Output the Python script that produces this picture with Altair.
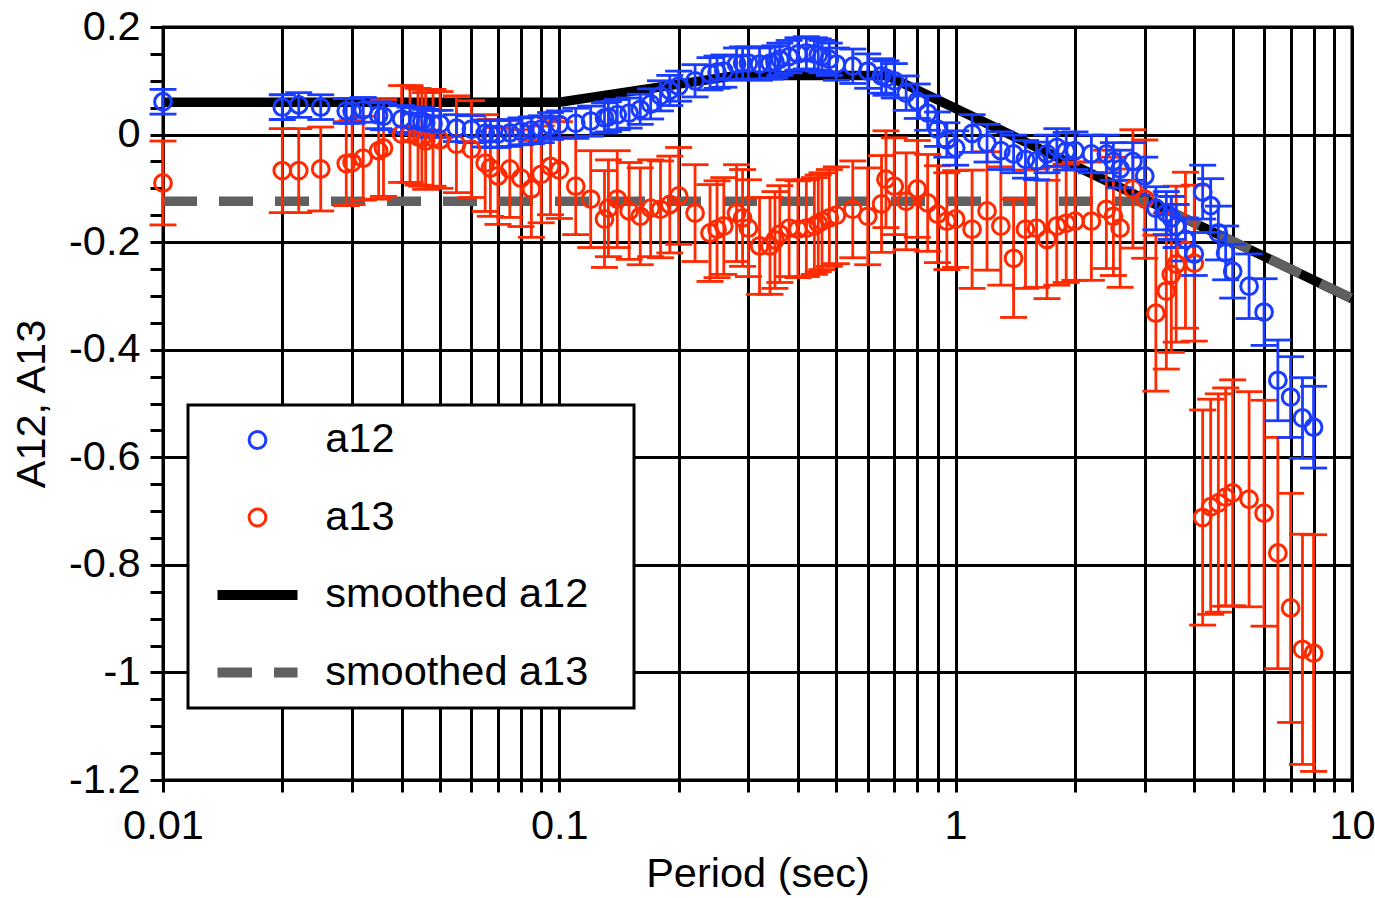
import altair as alt
import pandas as pd

FONT = "Liberation Sans"
PAD_CHAR = "\u2800"

periods = [0.01, 0.02, 0.022, 0.025, 0.029, 0.03, 0.032, 0.035, 0.036, 0.04, 0.042, 0.044, 0.045, 0.046, 0.048, 0.05,
           0.055, 0.06, 0.065, 0.067, 0.07, 0.075, 0.08, 0.085, 0.09, 0.095, 0.1, 0.11, 0.12, 0.13, 0.133, 0.14, 0.15,
           0.16, 0.17, 0.18, 0.19, 0.2, 0.22, 0.24, 0.25, 0.26, 0.28, 0.29, 0.3, 0.32, 0.34, 0.35, 0.36, 0.38, 0.4,
           0.42, 0.44, 0.45, 0.46, 0.48, 0.5, 0.55, 0.6, 0.65, 0.667, 0.7, 0.75, 0.8, 0.85, 0.9, 0.95, 1.0, 1.1, 1.2,
           1.3, 1.4, 1.5, 1.6, 1.7, 1.8, 1.9, 2.0, 2.2, 2.4, 2.5, 2.6, 2.8, 3.0, 3.2, 3.4, 3.5, 3.6, 3.8, 4.0, 4.2,
           4.4, 4.6, 4.8, 5.0, 5.5, 6.0, 6.5, 7.0, 7.5, 8.0]

a12 = [0.061, 0.051, 0.055, 0.051, 0.044, 0.044, 0.046, 0.036, 0.034, 0.029, 0.026, 0.025, 0.025, 0.022, 0.020, 0.020,
       0.012, 0.010, 0.002, 0.001, 0.001, 0.003, 0.006, 0.008, 0.010, 0.016, 0.019, 0.021, 0.025, 0.031, 0.033, 0.037,
       0.040, 0.047, 0.057, 0.072, 0.082, 0.090, 0.100, 0.113, 0.116, 0.118, 0.131, 0.133, 0.133, 0.131, 0.133, 0.135,
       0.140, 0.145, 0.150, 0.152, 0.150, 0.148, 0.145, 0.140, 0.131, 0.127, 0.118, 0.109, 0.105, 0.100, 0.077, 0.062,
       0.040, 0.010, -0.010, -0.025, 0.002, -0.016, -0.030, -0.036, -0.046, -0.049, -0.036, -0.024, -0.031, -0.030,
       -0.036, -0.036, -0.050, -0.064, -0.050, -0.077, -0.137, -0.146, -0.155, -0.170, -0.195, -0.222, -0.107, -0.132,
       -0.183, -0.220, -0.254, -0.282, -0.330, -0.457, -0.488, -0.527, -0.544]

a12_err = [0.023] * 7 + [0.025] * 20 + [0.028] * 11 + [0.030] * 19 + [0.032] * 11 + [0.035] * 16 + [0.040] * 6 + \
          [0.050] * 5 + [0.060, 0.062, 0.075, 0.075, 0.075, 0.076]

a13 = [-0.090, -0.067, -0.067, -0.064, -0.054, -0.052, -0.044, -0.030, -0.025, 0.001, 0.001, -0.004, -0.006, -0.012,
       -0.006, -0.010, -0.018, -0.027, -0.053, -0.062, -0.077, -0.064, -0.081, -0.101, -0.074, -0.059, -0.066, -0.096,
       -0.120, -0.157, -0.137, -0.120, -0.142, -0.152, -0.137, -0.139, -0.130, -0.114, -0.146, -0.183, -0.176, -0.170,
       -0.146, -0.155, -0.174, -0.207, -0.207, -0.196, -0.185, -0.174, -0.176, -0.174, -0.170, -0.165, -0.161, -0.155,
       -0.150, -0.139, -0.152, -0.129, -0.083, -0.096, -0.124, -0.101, -0.127, -0.148, -0.161, -0.157, -0.176, -0.142,
       -0.170, -0.230, -0.176, -0.174, -0.195, -0.170, -0.165, -0.161, -0.161, -0.139, -0.152, -0.174, -0.101, -0.120,
       -0.332, -0.291, -0.260, -0.241, -0.215, -0.239, -0.712, -0.692, -0.685, -0.674, -0.666, -0.678, -0.704, -0.778,
       -0.880, -0.957, -0.964]

a13_err = [0.078] * 7 + [0.090] * 61 + [0.110] * 16 + [0.145] * 6 + \
          [0.200, 0.200, 0.203, 0.203, 0.210, 0.200, 0.210, 0.215, 0.213, 0.214, 0.220]

smooth12_T = [0.01, 0.1, 0.28, 0.67, 10.0]
smooth12_v = [0.06, 0.06, 0.11, 0.11, -0.305]
smooth13_T = [0.01, 3.09, 10.0]
smooth13_v = [-0.124, -0.124, -0.305]

x_ticks = [0.01, 0.02, 0.03, 0.04, 0.05, 0.06, 0.07, 0.08, 0.09,
           0.1, 0.2, 0.3, 0.4, 0.5, 0.6, 0.7, 0.8, 0.9,
           1, 2, 3, 4, 5, 6, 7, 8, 9, 10]
x_labeled = [0.01, 0.1, 1, 10]
y_ticks = [-1.2, -1.15, -1.1, -1.05, -1.0, -0.95, -0.9, -0.85, -0.8, -0.75, -0.7, -0.65, -0.6, -0.55, -0.5,
           -0.45, -0.4, -0.35, -0.3, -0.25, -0.2, -0.15, -0.1, -0.05, 0, 0.05, 0.1, 0.15, 0.2]

series_domain = ["a12", "a13", "smoothed a12", "smoothed a13"]
series_colors = ["#1a3cff", "#ff2a00", "#000000", "#606060"]
BLUE, RED = series_colors[0], series_colors[1]

# symbol shapes (unit = sqrt(size)/2 = 10 px at size 400)
CIRCLE = "M-0.84,0A0.84,0.84,0,1,1,0.84,0A0.84,0.84,0,1,1,-0.84,0Z"
THICK = "".join(f"M-4,{o}H4" for o in (-0.36, -0.12, 0.12, 0.36))
DASHED = "".join(f"M-4,{o}H-0.55M1.65,{o}H4" for o in (-0.36, -0.12, 0.12, 0.36))
series_shapes = [CIRCLE, CIRCLE, THICK, DASHED]


def frame(name, vals, errs):
    return pd.DataFrame({"period": periods, "value": vals,
                         "lo": [v - e for v, e in zip(vals, errs)],
                         "hi": [v + e for v, e in zip(vals, errs)],
                         "series": [name] * len(periods)})


df12 = frame("a12", a12, a12_err)
df13 = frame("a13", a13, a13_err)
df_pts = pd.concat([df13, df12], ignore_index=True)

sm12 = pd.DataFrame({"period": smooth12_T, "value": smooth12_v})
sm13 = pd.DataFrame({"period": smooth13_T, "value": smooth13_v})

xscale = alt.Scale(type="log", domain=[0.01, 10], nice=False)
yscale = alt.Scale(domain=[-1.2, 0.2], nice=False, zero=False)

FS = 41.5
labeled_list = ", ".join(str(v) for v in x_labeled)
xaxis = alt.Axis(values=x_ticks,
                 labelExpr=f"indexof([{labeled_list}], datum.value) >= 0 ? format(datum.value, '~g') : ''",
                 grid=True, gridColor="black", gridWidth=3, gridOpacity=1,
                 ticks=True, tickColor="black", tickSize=12, tickWidth=3,
                 labelFont=FONT, labelFontSize=FS, labelColor="black", labelPadding=13,
                 labelFlush=False, labelOverlap=False, domain=False,
                 titleFont=FONT, titleFontSize=FS, titleFontWeight="normal", titleColor="black",
                 titlePadding=7)

major_test = "abs(datum.value*5 - round(datum.value*5)) < 0.001"
yaxis = alt.Axis(values=y_ticks,
                 labelExpr=f"{major_test} ? (datum.value < 0 ? '-' + format(-datum.value, '~g') : format(datum.value, '~g')) : ''",
                 grid=True, gridColor="black", gridWidth=3,
                 gridOpacity={"condition": {"test": major_test, "value": 1}, "value": 0},
                 ticks=True, tickColor="black", tickSize=13, tickWidth=3,
                 labelFont=FONT, labelFontSize=FS, labelColor="black", labelPadding=10,
                 labelFlush=False, labelOverlap=False, domain=False,
                 titleFont=FONT, titleFontSize=FS, titleFontWeight="normal", titleColor="black",
                 titlePadding=15)

X = lambda f: alt.X(f, scale=xscale, axis=xaxis, title="Period (sec)")
Y = lambda f: alt.Y(f, scale=yscale, axis=yaxis, title="A12, A13")

legend = alt.Legend(title=None, orient="none", legendX=25, legendY=378,
                    labelFont=FONT, labelFontSize=FS, labelColor="black", labelLimit=600,
                    labelExpr=f"datum.label + '{PAD_CHAR}'",
                    symbolSize=400, symbolStrokeWidth=3, symbolOffset=34.5, labelOffset=47,
                    padding=14.25, rowPadding=34.5, strokeColor="black", fillColor="white",
                    symbolOpacity=1)

line12 = alt.Chart(sm12).mark_line(color="black", strokeWidth=9.5, strokeCap="butt").encode(
    x=X("period:Q"), y=Y("value:Q"))
line13 = alt.Chart(sm13).mark_line(color="#606060", strokeWidth=9.5, strokeDash=[34, 22], strokeCap="butt").encode(
    x=X("period:Q"), y=Y("value:Q"))


def errbars(d, col):
    bar = alt.Chart(d).mark_rule(strokeWidth=2.8, opacity=1, color=col).encode(
        x=X("period:Q"), y=Y("lo:Q"), y2="hi:Q")
    lo = alt.Chart(d).mark_tick(orient="horizontal", size=27, thickness=2.8, opacity=1, color=col).encode(
        x=X("period:Q"), y=Y("lo:Q"))
    hi = alt.Chart(d).mark_tick(orient="horizontal", size=27, thickness=2.8, opacity=1, color=col).encode(
        x=X("period:Q"), y=Y("hi:Q"))
    return [bar, lo, hi]


points = alt.Chart(df_pts).mark_point(filled=False, opacity=1, size=400, strokeWidth=3).encode(
    x=X("period:Q"), y=Y("value:Q"),
    color=alt.Color("series:N", scale=alt.Scale(domain=series_domain, range=series_colors), legend=legend),
    shape=alt.Shape("series:N", scale=alt.Scale(domain=series_domain, range=series_shapes), legend=legend),
)

layers = [line12, line13] + errbars(df13, RED) + errbars(df12, BLUE) + [points]
chart = alt.layer(*layers).properties(
    width=1189, height=753,
    autosize=alt.AutoSizeParams(type="none"),
    padding={"left": 163, "top": 27, "right": 23, "bottom": 118},
).configure_view(stroke="black", strokeWidth=3).configure_legend(strokeWidth=3)

chart.save("out.html", embed_options={"renderer": "svg", "actions": False})
